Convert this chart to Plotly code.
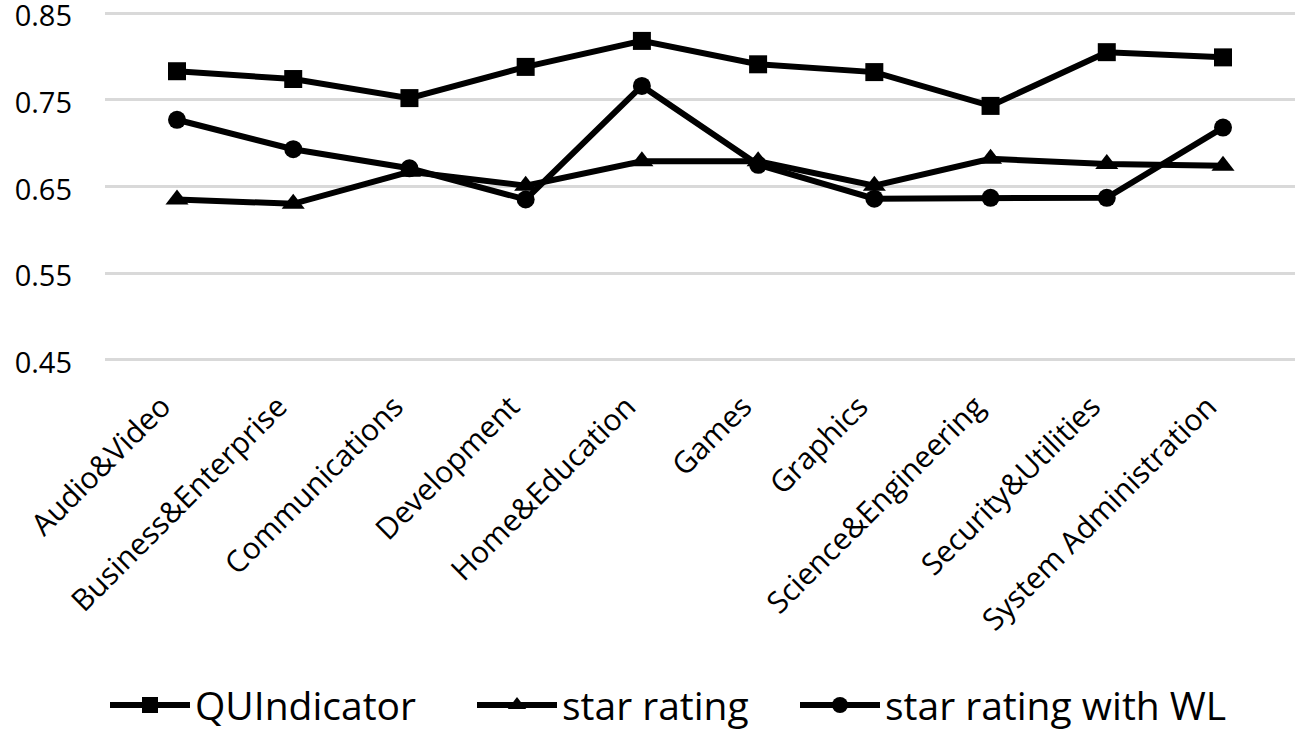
import plotly.graph_objects as go

# categories on the x axis
categories = ["Audio&Video", "Business&Enterprise", "Communications", "Development",
              "Home&Education", "Games", "Graphics", "Science&Engineering",
              "Security&Utilities", "System Administration"]

# series values
qu_indicator = [0.783, 0.774, 0.752, 0.788, 0.818, 0.791, 0.782, 0.743, 0.805, 0.799]
star_rating = [0.635, 0.630, 0.667, 0.651, 0.679, 0.679, 0.651, 0.682, 0.676, 0.674]
star_rating_wl = [0.727, 0.693, 0.671, 0.635, 0.766, 0.675, 0.636, 0.637, 0.637, 0.718]

y_ticks = [0.45, 0.55, 0.65, 0.75, 0.85]

fig = go.Figure()
fig.add_trace(go.Scatter(x=categories, y=qu_indicator, name="QUIndicator",
                         mode="lines+markers", legend="legend",
                         line=dict(color="black", width=6),
                         marker=dict(symbol="square", size=18, color="black")))
fig.add_trace(go.Scatter(x=categories, y=star_rating, name="star rating",
                         mode="lines+markers", legend="legend2",
                         line=dict(color="black", width=6),
                         marker=dict(symbol="triangle-up", size=20, color="black")))
fig.add_trace(go.Scatter(x=categories, y=star_rating_wl, name="star rating with WL",
                         mode="lines+markers", legend="legend3",
                         line=dict(color="black", width=6),
                         marker=dict(symbol="circle", size=18, color="black")))

W, H = 1304, 730

# one legend per entry so the gaps between entries match
leg = dict(orientation="h", xref="container", yref="container", xanchor="left",
           y=0.034, yanchor="middle", font=dict(size=39), itemwidth=80,
           bgcolor="rgba(0,0,0,0)")

fig.update_layout(
    width=W, height=H,
    paper_bgcolor="white", plot_bgcolor="white",
    font=dict(family="Open Sans", color="black"),
    margin=dict(l=105, r=9, t=10.5, b=368, autoexpand=False),
    showlegend=True,
    legend=dict(leg, x=105 / W),
    legend2=dict(leg, x=472 / W),
    legend3=dict(leg, x=795 / W),
)
fig.update_xaxes(tickangle=-45, tickfont=dict(size=30), showgrid=False,
                 showline=False, ticks="", automargin=False,
                 ticklabelshift=-15, ticklabelstandoff=20)
fig.update_yaxes(range=[0.4475, 0.8525], tickvals=y_ticks, tickformat=".2f",
                 tickfont=dict(size=29), showgrid=True, gridcolor="#d9d9d9",
                 gridwidth=3, zeroline=False, showline=False, ticks="",
                 automargin=False, ticklabelstandoff=32, ticklabelshift=3,
                 ticklabeloverflow="allow")

# drop the default 8px page margin so the figure fills the window
fig.write_html("out.html", config={"displayModeBar": False},
               post_script="document.body.style.margin='0';")
